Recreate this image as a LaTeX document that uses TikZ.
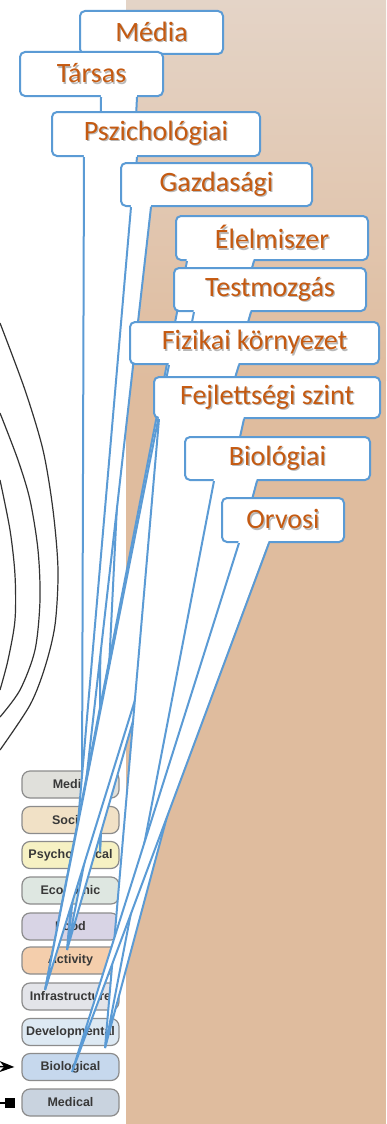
\documentclass[tikz,border=0pt]{standalone}
\usepackage{fontspec}
\setmainfont{Carlito}
\newfontfamily\legendfont{Liberation Sans}
\usetikzlibrary{calc,arrows.meta}

\definecolor{calloutblue}{HTML}{5B9BD5}
\definecolor{labelbrown}{HTML}{C55A11}
\definecolor{tanback}{HTML}{DFBC9E}
\definecolor{tanlight}{HTML}{E4D4C7}
\definecolor{legmedia}{HTML}{E0E0DB}
\definecolor{legsocial}{HTML}{F1E1C6}
\definecolor{legpsych}{HTML}{F6F1C3}
\definecolor{legecon}{HTML}{DEE7E1}
\definecolor{legfood}{HTML}{D8D4E5}
\definecolor{legactivity}{HTML}{F4CEAC}
\definecolor{leginfra}{HTML}{E3E4E9}
\definecolor{legdevel}{HTML}{DDE9F3}
\definecolor{legbio}{HTML}{C6D8ED}
\definecolor{legmedical}{HTML}{C9D3DF}

% label with its soft grey shadow
\newcommand{\shadowed}[1]{\rlap{\hspace{1.3pt}\raisebox{-1.3pt}{\textcolor{black!28}{#1}}}#1}

% pointer of a callout: base offsets from the box's south west corner, then the tip
\newcommand{\pointer}[4]{%
  \fill[white] ($(#1.south west)+(#2,-3)$) -- (#4) -- ($(#1.south west)+(#3,-3)$) -- cycle;
  \draw[pointerline] ($(#1.south west)+(#2,0)$) -- (#4) -- ($(#1.south west)+(#3,0)$);}

\tikzset{
  callbox/.style={draw=calloutblue, line width=2pt, fill=white, rounded corners=5pt,
    inner sep=0pt, text=labelbrown, font=\fontsize{28}{30}\selectfont},
  pointerline/.style={draw=calloutblue, line width=2pt},
  legendbox/.style={draw=black!45, line width=1.2pt, rounded corners=8pt,
    minimum width=97pt, minimum height=27pt, inner sep=0pt,
    text=black!78, font=\legendfont\bfseries\fontsize{12.5}{13}\selectfont},
  ring/.style={draw=black!80, line width=1.2pt}
}

\begin{document}
\begin{tikzpicture}[x=1pt,y=-1pt]
\useasboundingbox (0,0) rectangle (386,1124);

% backdrop
\fill[white] (0,0) rectangle (126,1124);
\fill[tanback] (126,0) rectangle (386,1124);
\shade[top color=tanlight, bottom color=tanback] (126,0) rectangle (386,380);

% rings on the left
\draw[ring] plot[smooth] coordinates {(0,323) (25,390) (43,450) (53,510) (58,570) (55,625) (45,667) (30,705) (0,750)};
\draw[ring] plot[smooth] coordinates {(0,413) (18,460) (30,500) (38,550) (40,600) (35,650) (20,690) (0,717)};
\draw[ring] plot[smooth] coordinates {(0,480) (10,530) (15,575) (15,620) (8,660) (0,690)};

% legend
\node[legendbox, fill=legmedia]    (lmedia)    at (70.5,784.5)  {Media};
\node[legendbox, fill=legsocial]   (lsocial)   at (70.5,820)    {Social};
\node[legendbox, fill=legpsych]    (lpsych)    at (70.5,855)    {Psychological};
\node[legendbox, fill=legecon]     (lecon)     at (70.5,890.5)  {Economic};
\node[legendbox, fill=legfood]     (lfood)     at (70.5,926.5)  {Food};
\node[legendbox, fill=legactivity] (lactivity) at (70.5,960.5)  {Activity};
\node[legendbox, fill=leginfra]    (linfra)    at (70.5,996.5)  {Infrastructure};
\node[legendbox, fill=legdevel]    (ldevel)    at (70.5,1032)   {Developmental};
\node[legendbox, fill=legbio]      (lbio)      at (70.5,1067)   {Biological};
\node[legendbox, fill=legmedical]  (lmedical)  at (70.5,1102.5) {Medical};

\coordinate (arrowtail) at (-20,1066);
\draw[line width=1.6pt, -{Stealth[length=15pt,width=11pt]}] (arrowtail) -- ([xshift=-7pt]lbio.west);
\node[fill=black, minimum size=10pt, inner sep=0pt] (medsq) at (10,1103) {};
\coordinate (sqtail) at (-5,1103);
\draw[line width=1.4pt] (sqtail) -- (medsq);

% tips of the pointers
\coordinate (tipmed)   at (82,790);
\coordinate (tippsy)   at (100,852);
\coordinate (tipact)   at (67,950);
\coordinate (tipinf)   at (45,990);
\coordinate (tipdev)   at (105,1048);
\coordinate (tipbio)   at (72,1072);

% callouts, back to front
\node[callbox, minimum width=143pt, minimum height=43pt] (media) at (151.5,32.5) {\shadowed{Média}};
\pointer{media}{30}{50}{tippsy}
\node[callbox, minimum width=143pt, minimum height=44pt] (tarsas) at (91.5,74) {\shadowed{Társas}};
\pointer{tarsas}{82}{118}{tippsy}
\node[callbox, minimum width=208pt, minimum height=44pt] (pszich) at (156,134) {\shadowed{Pszichológiai}};
\pointer{pszich}{33}{86}{tipmed}
\node[callbox, minimum width=191pt, minimum height=43pt] (gazd) at (216.5,184.5) {\shadowed{Gazdasági}};
\pointer{gazd}{11}{31}{tipact}
\node[callbox, minimum width=192pt, minimum height=44pt] (elelm) at (272,238) {\shadowed{Élelmiszer}};
\pointer{elelm}{12}{79}{tipinf}
\node[callbox, minimum width=192pt, minimum height=43pt] (testm) at (270,289.5) {\shadowed{Testmozgás}};
\pointer{testm}{21}{78}{tipact}
\node[callbox, minimum width=249pt, minimum height=42pt] (fizik) at (254.5,343) {\shadowed{Fizikai környezet}};
\pointer{fizik}{40}{110}{tipinf}
\node[callbox, minimum width=226pt, minimum height=41pt] (fejl) at (267,397.5) {\shadowed{Fejlettségi szint}};
\pointer{fejl}{6}{91}{tipdev}
\node[callbox, minimum width=185pt, minimum height=43pt] (biol) at (277.5,458.5) {\shadowed{Biológiai}};
\pointer{biol}{30}{73}{tipdev}
\node[callbox, minimum width=122pt, minimum height=44pt] (orvosi) at (283,520) {\shadowed{Orvosi}};
\pointer{orvosi}{18}{48}{tipbio}
\end{tikzpicture}
\end{document}
